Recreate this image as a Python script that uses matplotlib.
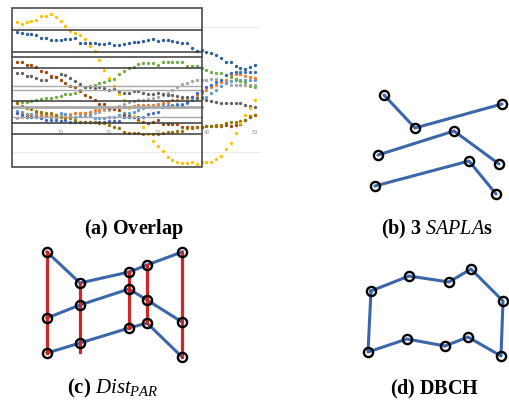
import matplotlib.pyplot as plt
from matplotlib.patches import Rectangle
import numpy as np

plt.rcParams['font.family'] = ['Liberation Serif', 'DejaVu Serif']
plt.rcParams['mathtext.fontset'] = 'custom'
plt.rcParams['mathtext.rm'] = 'Liberation Serif'
plt.rcParams['mathtext.it'] = 'Liberation Serif:italic'
plt.rcParams['mathtext.bf'] = 'Liberation Serif:bold'

W, H = 509, 403

#-----------Data (a): time series (screen y, top = 0)-----------------------------------------
t = np.arange(1, 51)
yellow = [22,24,22,21,20,16,16,14,17,21, 26,31,33,35,39,46,51,60,70,78,
          86,94,100,108,116,122,127,134,141,146, 151,157,160,162,163,163,162,164,162,162,
          162,159,156,149,143,133,123,115,108,100]
dark_blue = [32,33,34,34,35,38,38,40,40,40, 39,39,38,43,43,43,43,44,44,43,
             45,45,44,43,42,42,41,40,39,41, 40,40,41,42,43,43,48,51,50,52,
             53,55,58,62,62,66,68,69,67,65]
brown = [62,62,65,65,67,71,72,76,77,80, 83,86,87,91,95,97,100,104,104,108,
         109,110,115,116,117,120,122,123,122,120, 124,124,124,124,127,127,127,127,127,126,
         126,126,126,125,126,125,124,120,117,115]
dark_gray = [73,73,76,76,78,80,80,77,77,74, 75,78,81,84,87,87,88,87,88,90,
             89,92,93,93,91,91,93,94,94,93, 94,95,95,96,97,97,97,98,98,100,
             101,102,103,103,103,103,103,105,106,107]
green = [102,102,102,101,100,99,98,98,97,96, 94,94,93,90,87,86,85,83,82,80,
         79,74,71,68,67,64,63,63,63,65, 62,62,62,62,62,66,66,66,68,70,
         72,73,73,75,77,79,81,82,86,87]
orange = [113,114,115,116,115,115,115,115,117,117, 117,115,113,113,113,112,110,110,108,108,
          108,107,107,107,106,105,105,105,105,104, 103,102,100,100,98,98,97,95,93,90,
          87,85,82,80,75,74,74,76,77,78]
light_gray = [118,117,117,117,116,116,115,115,115,114, 114,114,113,113,113,113,113,112,110,110,
              108,106,104,102,101,100,100,99,98,97, 95,93,90,87,84,83,81,80,80,80,
              79,79,80,82,85,85,85,85,85,85]
light_blue = [111,112,114,114,113,114,116,117,117,113, 114,117,117,116,116,115,118,118,118,117,
              117,115,113,113,112,110,108,107,106,106, 105,105,105,104,104,103,100,98,97,97,
              93,90,86,83,81,80,80,80,80,80]
blue = [113,115,117,117,117,118,120,120,120,121, 120,122,122,122,122,122,122,122,122,121,
        121,121,117,117,117,117,117,114,113,112, 107,107,106,105,105,102,97,93,91,87,
        85,82,80,75,73,72,72,72,72,72]
dark_yellow = [103,106,108,109,111,112,113,113,115,117, 118,118,120,122,122,122,122,123,123,125,
               127,128,132,133,133,133,134,134,134,134, 133,132,132,131,131,128,128,127,127,126,
               126,125,125,123,122,122,121,120,116,115]

series = [
    (light_gray, '#A5A5A5'), (light_blue, '#5B9BD5'), (orange, '#ED7D31'),
    (green, '#70AD47'), (dark_gray, '#636363'), (brown, '#9E480E'),
    (blue, '#3F6CC0'), (dark_yellow, '#997300'), (dark_blue, '#2F5F98'),
    (yellow, '#FFC000'),
]

# overlapping boxes drawn on top of the series
box_x = (0, 39.1)
box_y = (8, 167)
box_black = [30, 52, 57, 68, 101, 123, 134]
box_gray = [86, 90, 117]
box_gray_thick = [107]
grid_y = [27, 152]
xticks = [10, 20, 30, 40, 50]

#-----------Data (b), (c), (d): sketch points (local panel units)------------
sapla_lines = [
    ([44, 75, 162], [25, 58, 34]),
    ([38, 114, 159], [85, 61, 94]),
    ([35, 129, 156], [116, 91, 124]),
]
par_x = [27, 60, 109, 127, 162]
par_top = [22, 53, 42, 35, 22]
par_mid = [88, 75, 59, 70, 92]
par_bot = [123, 113, 98, 93, 127]
par_red_end = [123, 122, 98, 93, 127]

dbch_x = [31, 69, 109, 131, 163, 161, 128, 105, 67, 28, 31]
dbch_y = [41, 26, 32, 19, 51, 106, 87, 96, 89, 102, 41]

LINE_BLUE = '#3C66AA'
RED = '#D02626'


def add_ax(fig, x0, y0, w, h):
    ax = fig.add_axes([x0 / W, 1 - (y0 + h) / H, w / W, h / H])
    ax.set_xlim(0, w)
    ax.set_ylim(h, 0)
    ax.axis('off')
    return ax


def circles(ax, x, y):
    ax.plot(x, y, 'o', ms=6.6, mfc='none', mec='black', mew=1.7, zorder=5)


fig = plt.figure(figsize=(W / 100, H / 100), dpi=100)

#-----------(a) Overlap------------
ax = fig.add_axes([0, 1 - 180 / H, 260 / W, 180 / H])
ax.set_xlim(-12 / 4.86, 248 / 4.86)
ax.set_ylim(180, 0)
ax.axis('off')
for gy in grid_y:
    ax.plot([0, 51], [gy, gy], color='#ebebeb', lw=0.8, zorder=0)
for vals, c in series:
    ax.plot(t, vals, 'o', ms=2.4, mew=0, color=c, zorder=2)
for gy in box_gray:
    ax.plot(box_x, [gy, gy], color='#a8a8a8', lw=1.0, zorder=3)
for gy in box_gray_thick:
    ax.plot(box_x, [gy, gy], color='#a8a8a8', lw=2.0, zorder=3)
for gy in box_black:
    ax.plot(box_x, [gy, gy], color='#3a3a3a', lw=1.1, zorder=3)
ax.add_patch(Rectangle((box_x[0], box_y[0]), box_x[1] - box_x[0], box_y[1] - box_y[0],
                       fill=False, ec='#4a4a4a', lw=1.2, zorder=4))
for xt in xticks:
    ax.text(xt, 132, str(xt), fontsize=3.5, color='#8a8a8a', ha='center', va='center',
            family='DejaVu Sans', zorder=1)

#-----------(b) 3 SAPLAs------------
ax = add_ax(fig, 340, 70, 169, 140)
for xs, ys in sapla_lines:
    ax.plot(xs, ys, color=LINE_BLUE, lw=2.2, solid_capstyle='round', zorder=2)
    circles(ax, xs, ys)

#-----------(c) Dist_PAR------------
ax = add_ax(fig, 20, 230, 200, 140)
for ys in [par_top, par_mid, par_bot]:
    ax.plot(par_x, ys, color=LINE_BLUE, lw=2.2, zorder=2)
for x, y0, y1 in zip(par_x, par_top, par_red_end):
    ax.plot([x, x], [y0, y1], color=RED, lw=2.3, zorder=3)
for ys in [par_top, par_mid, par_bot]:
    circles(ax, par_x, ys)

#-----------(d) DBCH------------
ax = add_ax(fig, 340, 250, 169, 130)
ax.plot(dbch_x, dbch_y, color=LINE_BLUE, lw=2.2, zorder=2)
circles(ax, dbch_x[:-1], dbch_y[:-1])

#-----------Captions------------
fig.text(134 / W, 1 - 229 / H, r"$\mathbf{(a)\ Overlap}$", fontsize=14.5, ha='center', va='center')
fig.text(437 / W, 1 - 229 / H, r"$\mathbf{(b)\ 3}\ SAPLA\mathbf{s}$", fontsize=14.5, ha='center', va='center')
fig.text(113 / W, 1 - 388 / H, r"$\mathbf{(c)}\ Dist_{PAR}$", fontsize=15, ha='center', va='center')
fig.text(435 / W, 1 - 389 / H, r"$\mathbf{(d)\ DBCH}$", fontsize=14.5, ha='center', va='center')

fig.savefig('out.png', dpi=100)
